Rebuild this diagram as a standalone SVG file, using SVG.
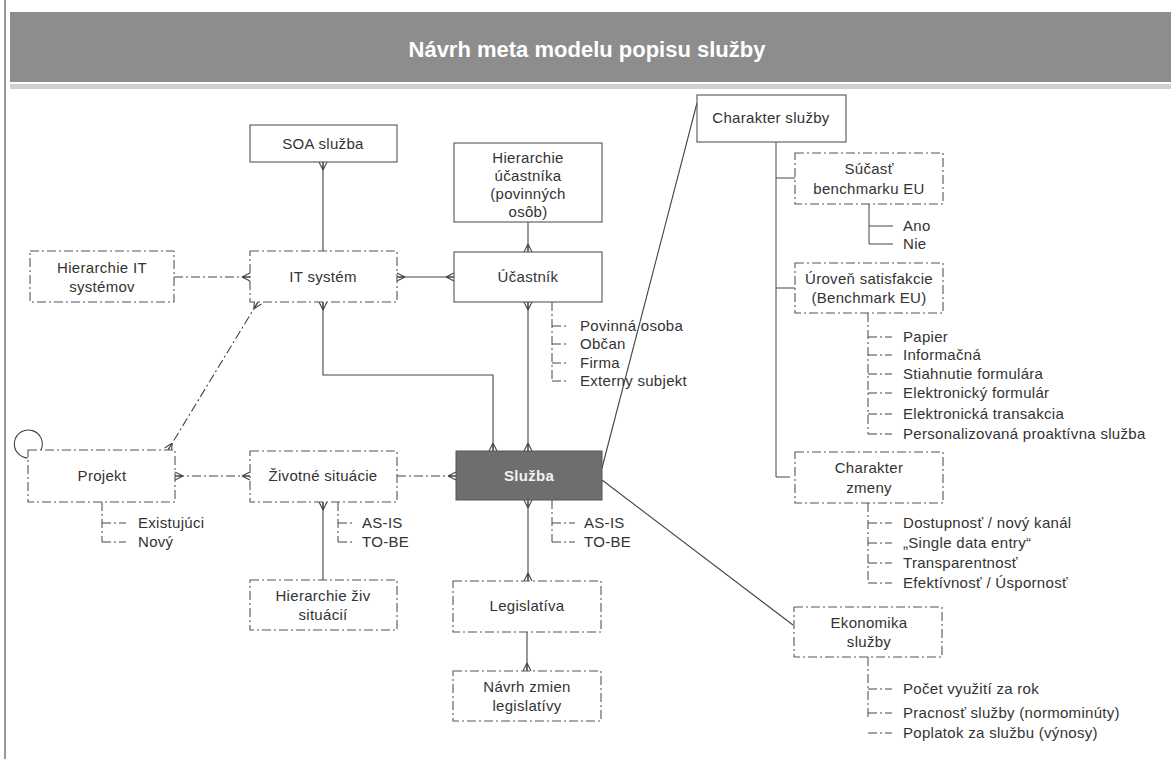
<svg xmlns="http://www.w3.org/2000/svg" width="1171" height="759" viewBox="0 0 1171 759">
<defs>
<style>
.bx{fill:#fff;stroke:#555;stroke-width:1.1}
.dd{stroke-dasharray:9 3 2 3}
.t{font-family:"Liberation Sans",Arial,sans-serif;font-size:15px;letter-spacing:0.3px;fill:#333;text-anchor:middle}
.l{font-family:"Liberation Sans",Arial,sans-serif;font-size:15px;letter-spacing:0.3px;fill:#333}
.c{fill:none;stroke:#444;stroke-width:1.1}
.tr{fill:none;stroke:#444;stroke-width:1}
</style>
<marker id="cf" viewBox="-9 -6 10 12" markerWidth="10" markerHeight="12" refX="0" refY="0" orient="auto-start-reverse" markerUnits="userSpaceOnUse">
<path d="M-8,0 L0,-4 M-8,0 L0,4 M-8,0 L0,0" fill="none" stroke="#444" stroke-width="1.1"/>
</marker>
</defs>
<rect width="1171" height="759" fill="#fff"/>
<line x1="5" y1="0" x2="5" y2="759" stroke="#999" stroke-width="2"/>
<g id="title">
<rect x="10" y="12" width="1161" height="70" fill="#8d8d8d"/>
<rect x="10" y="84" width="1161" height="5" fill="#d0d0d0"/>
<text x="587" y="57" font-family="Liberation Sans,Arial,sans-serif" font-size="22" font-weight="bold" fill="#fff" text-anchor="middle">Návrh meta modelu popisu služby</text>
</g>
<g id="connectors">
<path class="c" d="M323,162 L323,251" marker-start="url(#cf)"/>
<path class="c dd" d="M174,277 L250,277" marker-end="url(#cf)"/>
<path class="c" d="M397,277 L454,277" marker-start="url(#cf)" marker-end="url(#cf)"/>
<path class="c" d="M528,222 L528,252" marker-end="url(#cf)"/>
<path class="c dd" d="M258,302 L168,450" marker-start="url(#cf)" marker-end="url(#cf)"/>
<path class="c" d="M323,302 L323,375 L493,375 L493,451" marker-start="url(#cf)" marker-end="url(#cf)"/>
<path class="c" d="M528,302 L528,451" marker-start="url(#cf)" marker-end="url(#cf)"/>
<path class="c dd" d="M397,476 L456,476" marker-end="url(#cf)"/>
<path class="c dd" d="M175,476 L250,476" marker-start="url(#cf)" marker-end="url(#cf)"/>
<path class="c" d="M323,502 L323,580" marker-start="url(#cf)"/>
<path class="c" d="M528,500 L528,581" marker-start="url(#cf)" marker-end="url(#cf)"/>
<path class="c" d="M527,632 L527,671" marker-end="url(#cf)"/>
<path class="c" d="M602,468 L697,103"/>
<path class="c" d="M602,480 L793,625"/>
<path class="c" d="M41,450 A14,14 0 1 0 28,458"/>
</g>
<g id="trees">
<path class="tr dd" d="M552,302 L552,381 M552,326 L566,326 M552,344 L566,344 M552,363 L566,363 M552,381 L566,381"/>
<path class="tr" d="M776,142 L776,477 L790,477 M776,178 L795,178 M776,288 L795,288"/>
<path class="tr" d="M869,204 L869,244 M869,226 L893,226 M869,244 L893,244"/>
<path class="tr dd" d="M868,313 L868,434 M868,337 L892,337 M868,355 L892,355 M868,374 L892,374 M868,393 L892,393 M868,414 L892,414 M868,434 L892,434"/>
<path class="tr dd" d="M868,503 L868,583 M868,523 L892,523 M868,543 L892,543 M868,563 L892,563 M868,583 L892,583"/>
<path class="tr dd" d="M868,657 L868,718 M868,689 L892,689 M868,713 L892,713 M868,733 L892,733"/>
<path class="tr dd" d="M102,502 L102,542 M102,523 L126,523 M102,542 L126,542"/>
<path class="tr dd" d="M338,502 L338,542 M338,523 L352,523 M338,542 L352,542"/>
<path class="tr dd" d="M552,500 L552,542 M552,523 L575,523 M552,542 L575,542"/>
</g>
<g id="tree-labels">
<text class="l" x="580" y="331">Povinná osoba</text>
<text class="l" x="580" y="349">Občan</text>
<text class="l" x="580" y="368">Firma</text>
<text class="l" x="580" y="386">Externy subjekt</text>
<text class="l" x="903" y="231">Ano</text>
<text class="l" x="903" y="249">Nie</text>
<text class="l" x="903" y="342">Papier</text>
<text class="l" x="903" y="360">Informačná</text>
<text class="l" x="903" y="379">Stiahnutie formulára</text>
<text class="l" x="903" y="398">Elektronický formulár</text>
<text class="l" x="903" y="419">Elektronická transakcia</text>
<text class="l" x="903" y="439">Personalizovaná proaktívna služba</text>
<text class="l" x="903" y="528">Dostupnosť / nový kanál</text>
<text class="l" x="903" y="548">„Single data entry“</text>
<text class="l" x="903" y="568">Transparentnosť</text>
<text class="l" x="903" y="588">Efektívnosť / Úspornosť</text>
<text class="l" x="903" y="694">Počet využití za rok</text>
<text class="l" x="903" y="718">Pracnosť služby (normominúty)</text>
<text class="l" x="903" y="738">Poplatok za službu (výnosy)</text>
<text class="l" x="138" y="528">Existujúci</text>
<text class="l" x="138" y="547">Nový</text>
<text class="l" x="362" y="528">AS-IS</text>
<text class="l" x="362" y="547">TO-BE</text>
<text class="l" x="584" y="528">AS-IS</text>
<text class="l" x="584" y="547">TO-BE</text>
</g>
<g id="soa"><rect class="bx" x="250" y="125" width="147" height="37"/><text class="t" x="323" y="149">SOA služba</text></g>
<g id="hier-it"><rect class="bx dd" x="30" y="251" width="144" height="51"/><text class="t" x="102" y="273">Hierarchie IT</text><text class="t" x="102" y="292">systémov</text></g>
<g id="it"><rect class="bx dd" x="250" y="251" width="147" height="51"/><text class="t" x="323" y="282">IT systém</text></g>
<g id="hier-uc"><rect class="bx" x="454" y="143" width="148" height="79"/><text class="t" x="528" y="163">Hierarchie</text><text class="t" x="528" y="181">účastníka</text><text class="t" x="528" y="199">(povinných</text><text class="t" x="528" y="217">osôb)</text></g>
<g id="ucastnik"><rect class="bx" x="454" y="252" width="148" height="50"/><text class="t" x="528" y="282">Účastník</text></g>
<g id="char-sluzby"><rect class="bx" x="697" y="95" width="149" height="47"/><text class="t" x="771" y="123">Charakter služby</text></g>
<g id="sucast"><rect class="bx dd" x="795" y="153" width="148" height="51"/><text class="t" x="869" y="174">Súčasť</text><text class="t" x="869" y="194">benchmarku EU</text></g>
<g id="uroven"><rect class="bx dd" x="795" y="263" width="148" height="50"/><text class="t" x="869" y="284">Úroveň satisfakcie</text><text class="t" x="869" y="303">(Benchmark EU)</text></g>
<g id="char-zmeny"><rect class="bx dd" x="795" y="452" width="148" height="51"/><text class="t" x="869" y="473">Charakter</text><text class="t" x="869" y="493">zmeny</text></g>
<g id="ekonomika"><rect class="bx dd" x="794" y="607" width="148" height="50"/><text class="t" x="869" y="628">Ekonomika</text><text class="t" x="869" y="647">služby</text></g>
<g id="projekt"><rect class="bx dd" x="28" y="450" width="147" height="52"/><text class="t" x="102" y="481">Projekt</text></g>
<g id="zivotne"><rect class="bx dd" x="250" y="451" width="147" height="51"/><text class="t" x="323" y="481">Životné situácie</text></g>
<g id="hier-ziv"><rect class="bx dd" x="250" y="580" width="147" height="50"/><text class="t" x="323" y="601">Hierarchie živ</text><text class="t" x="323" y="620">situácií</text></g>
<g id="sluzba"><rect x="456" y="451" width="146" height="49" fill="#6e6e6e" stroke="#555"/><text class="t" x="529" y="481" style="fill:#f2f2f2;font-weight:bold">Služba</text></g>
<g id="legislativa"><rect class="bx dd" x="453" y="581" width="148" height="51"/><text class="t" x="527" y="611">Legislatíva</text></g>
<g id="navrh"><rect class="bx dd" x="453" y="671" width="148" height="50"/><text class="t" x="527" y="692">Návrh zmien</text><text class="t" x="527" y="711">legislatívy</text></g>
</svg>
